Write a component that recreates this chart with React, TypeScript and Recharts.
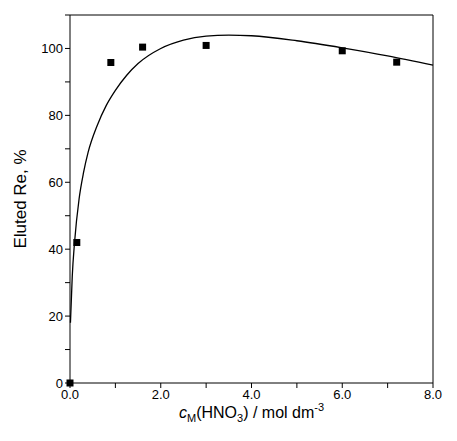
import React from 'react';
import { ComposedChart, Line, Scatter, XAxis, YAxis } from 'recharts';

// measured points
const expX = [0, 0.15, 0.9, 1.6, 3.0, 6.0, 7.2];
const expY = [0, 42, 95.8, 100.4, 100.9, 99.3, 95.9];

// fitted curve
const fitX = [0.01, 0.05, 0.1, 0.2, 0.3, 0.4, 0.6, 0.8, 1.0, 1.25, 1.5, 2.0, 2.5, 3.0, 3.5, 4.0, 5.0, 6.0, 7.0, 8.0];
const fitY = [18, 32, 42, 55, 63, 69, 77, 83, 87.5, 92, 95.5, 100, 102.5, 103.7, 104, 103.8, 102.3, 100.2, 97.8, 95];

const xTicks = [0, 1, 2, 3, 4, 5, 6, 7, 8];
const yTicks = [0, 10, 20, 30, 40, 50, 60, 70, 80, 90, 100, 110];

const expData = expX.map((x, i) => ({ x, y: expY[i] }));
const fitData = fitX.map((x, i) => ({ x, y: fitY[i] }));

const font = 'Arial, "Liberation Sans", sans-serif';

const Square = (props: any) => (
  <rect x={props.cx - 3.5} y={props.cy - 3.5} width={7} height={7} fill="#000" />
);

const XLabel = (props: any) => {
  const { viewBox } = props;
  const cx = viewBox.x + viewBox.width / 2;
  return (
    <text x={cx} y={viewBox.y + 35} textAnchor="middle" fontSize={16} fontFamily={font} fill="#000">
      <tspan fontStyle="italic">c</tspan>
      <tspan fontSize={11} dy={4}>M</tspan>
      <tspan dy={-4}>(HNO</tspan>
      <tspan fontSize={11} dy={4}>3</tspan>
      <tspan dy={-4}>) / mol dm</tspan>
      <tspan fontSize={11} dy={-7}>-3</tspan>
    </text>
  );
};

const fmtX = (v: number) => (v % 2 === 0 ? v.toFixed(1) : '');
const fmtY = (v: number) => (v % 20 === 0 && v <= 100 ? String(v) : '');

export default function App() {
  return (
    <div style={{ position: 'absolute', left: 0, top: 0, background: '#fff' }}>
      <ComposedChart width={457} height={441} margin={{ top: 14, right: 23, left: 30, bottom: 28 }}>
        <XAxis
          xAxisId="b" type="number" dataKey="x" domain={[0, 8]} ticks={xTicks} tickFormatter={fmtX}
          stroke="#000" tick={{ fill: '#000', fontSize: 13, fontFamily: font }} tickSize={5} height={30}
          label={<XLabel />}
        />
        <XAxis xAxisId="t" orientation="top" type="number" dataKey="x" domain={[0, 8]} ticks={xTicks} tick={false} tickLine={false} stroke="#000" height={1} />
        <YAxis
          yAxisId="l" type="number" domain={[0, 110]} ticks={yTicks} tickFormatter={fmtY}
          stroke="#000" tick={{ fill: '#000', fontSize: 13, fontFamily: font }} tickSize={5} width={40}
          label={{ value: 'Eluted Re, %', angle: -90, position: 'insideLeft', offset: -10, style: { textAnchor: 'middle', fontSize: 17, fontFamily: font, fill: '#000' } }}
        />
        <YAxis yAxisId="r" orientation="right" type="number" domain={[0, 110]} tick={false} tickLine={false} stroke="#000" width={1} />
        <Line xAxisId="b" yAxisId="l" data={fitData} dataKey="y" type="monotone" stroke="#000" strokeWidth={1.3} dot={false} isAnimationActive={false} />
        <Scatter xAxisId="b" yAxisId="l" data={expData} dataKey="y" shape={<Square />} isAnimationActive={false} />
      </ComposedChart>
    </div>
  );
}
